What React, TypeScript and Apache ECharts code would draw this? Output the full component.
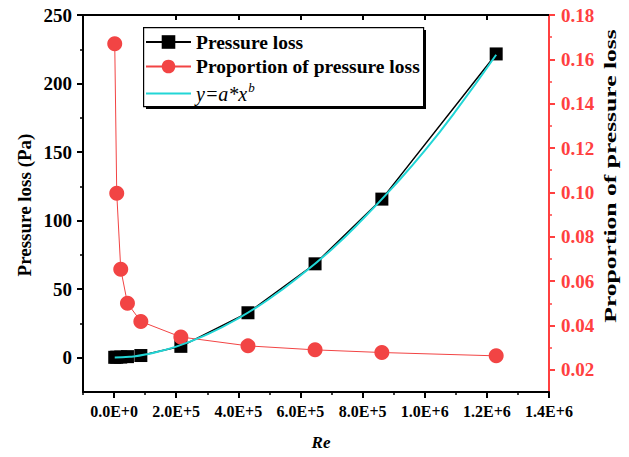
import React, { useEffect, useRef } from "react";
import * as echarts from "echarts";

const reValues = [2150, 8600, 21500, 43100, 86200, 215000, 431000, 647000, 862000, 1230000];
const pressureLoss = [0.3, 0.4, 0.5, 0.8, 1.6, 8.3, 32.8, 68.5, 115.7, 221.6];
const proportion = [0.167, 0.0996, 0.0654, 0.05, 0.0418, 0.0348, 0.0308, 0.029, 0.0278, 0.0263];
const fitRe = [2150, 50000, 100000, 200000, 300000, 400000, 500000, 600000, 700000, 800000, 900000, 1000000, 1100000, 1230000];
const fitLoss = [0.1, 0.7, 2.3, 8.1, 17, 28.7, 43, 60, 79, 101, 125, 151, 180, 221];

const xMajorTicks = [0, 200000, 400000, 600000, 800000, 1000000, 1200000, 1400000];
const xTickLabels = ["0.0E+0", "2.0E+5", "4.0E+5", "6.0E+5", "8.0E+5", "1.0E+6", "1.2E+6", "1.4E+6"];
const xMinorTicks = [-100000, 100000, 300000, 500000, 700000, 900000, 1100000, 1300000];
const yLeftMajor = [0, 50, 100, 150, 200, 250];
const yLeftMinor = [25, 75, 125, 175, 225];
const yRightMajor = [0.02, 0.04, 0.06, 0.08, 0.1, 0.12, 0.14, 0.16, 0.18];
const yRightMinor = [0.03, 0.05, 0.07, 0.09, 0.11, 0.13, 0.15, 0.17];

const FONT = "Liberation Serif";
const RED = "#ff4040";
const CYAN = "#22d6d6";

export default function App() {
  const ref = useRef<HTMLDivElement>(null);
  useEffect(() => {
    const chart = echarts.init(ref.current!, null, { renderer: "svg" });
    const xLabel = (v: number) => {
      const i = xMajorTicks.indexOf(v);
      return i >= 0 ? xTickLabels[i] : "";
    };
    const baseX = {
      type: "value" as const,
      min: -100000,
      max: 1400000,
      interval: 100000,
      splitLine: { show: false },
    };
    const option: any = {
      animation: false,
      backgroundColor: "#ffffff",
      grid: { left: 83, right: 80, top: 15, bottom: 65, containLabel: false },
      legend: {
        orient: "vertical",
        left: 143,
        top: 27,
        padding: [5, 3, 5, 2],
        itemWidth: 45,
        itemHeight: 17,
        itemGap: 4.5,
        z: 60,
        data: [
          "Pressure loss",
          "Proportion of pressure loss",
          { name: "y=a*x^b", icon: "path://M0,0L45,0L45,2L0,2Z", itemStyle: { color: CYAN } },
        ],
        formatter: (name: string) => (name === "y=a*x^b" ? "{it|y=a*x}{sup|b}" : name),
        textStyle: {
          fontFamily: FONT,
          fontWeight: "bold",
          fontSize: 19.5,
          lineHeight: 17,
          color: "#000",
          rich: {
            it: { fontFamily: FONT, fontStyle: "italic", fontWeight: "normal", fontSize: 20, lineHeight: 17, color: "#000" },
            sup: { fontFamily: FONT, fontStyle: "italic", fontWeight: "normal", fontSize: 13, lineHeight: 9, padding: [0, 0, 12, 1], color: "#000" },
          },
        },
      },
      graphic: {
        elements: [
          {
            type: "rect",
            left: 146,
            top: 30,
            z: 50,
            shape: { width: 280, height: 79 },
            style: { fill: "#000000" },
            silent: true,
          },
          {
            type: "rect",
            left: 143,
            top: 27,
            z: 51,
            shape: { width: 280, height: 79 },
            style: { fill: "#ffffff", stroke: "#000000", lineWidth: 1.2 },
            silent: true,
          },
          {
            type: "text",
            x: 24,
            y: 205,
            rotation: Math.PI / 2,
            style: { text: "Pressure loss (Pa)", fontFamily: FONT, fontWeight: "bold", fontSize: 19, fill: "#000", align: "center", verticalAlign: "middle" },
          },
          {
            type: "text",
            x: 611,
            y: 176,
            rotation: Math.PI / 2,
            scaleX: 1.6,
            style: { text: "Proportion of pressure loss", fontFamily: FONT, fontWeight: "bold", fontSize: 16, fill: "#000", align: "center", verticalAlign: "middle" },
          },
          {
            type: "text",
            x: 321,
            y: 442,
            style: { text: "Re", fontFamily: FONT, fontWeight: "bold", fontStyle: "italic", fontSize: 17, fill: "#000", align: "center", verticalAlign: "middle" },
          },
        ],
      },
      xAxis: [
        {
          ...baseX,
          position: "bottom",
          axisLine: { show: true, onZero: false, lineStyle: { color: "#000", width: 2 } },
          axisTick: { show: true, length: 6, customValues: xMajorTicks, lineStyle: { color: "#000", width: 2 } },
          axisLabel: { customValues: xMajorTicks, formatter: xLabel, margin: 11, fontFamily: FONT, fontWeight: "bold", fontSize: 16, color: "#000" },
        },
        {
          ...baseX,
          position: "bottom",
          axisLine: { show: false, onZero: false },
          axisTick: { show: true, length: 3, customValues: xMinorTicks, lineStyle: { color: "#000", width: 1.5 } },
          axisLabel: { show: false },
        },
        {
          ...baseX,
          position: "top",
          axisLine: { show: true, onZero: false, lineStyle: { color: "#000", width: 2 } },
          axisTick: { show: true, inside: true, length: 5, customValues: xMajorTicks.slice(1, 7), lineStyle: { color: "#000", width: 2 } },
          axisLabel: { show: false },
        },
      ],
      yAxis: [
        {
          type: "value",
          min: -25,
          max: 250,
          interval: 25,
          position: "left",
          splitLine: { show: false },
          axisLine: { show: true, onZero: false, lineStyle: { color: "#000", width: 2 } },
          axisTick: { show: true, length: 6, customValues: yLeftMajor, lineStyle: { color: "#000", width: 2 } },
          axisLabel: { customValues: yLeftMajor, margin: 11, fontFamily: FONT, fontWeight: "bold", fontSize: 19, color: "#000" },
        },
        {
          type: "value",
          min: -25,
          max: 250,
          interval: 25,
          position: "left",
          splitLine: { show: false },
          axisLine: { show: false, onZero: false },
          axisTick: { show: true, length: 3, customValues: yLeftMinor, lineStyle: { color: "#000", width: 1.5 } },
          axisLabel: { show: false },
        },
        {
          type: "value",
          min: 0.01,
          max: 0.18,
          interval: 0.01,
          position: "right",
          splitLine: { show: false },
          axisLine: { show: true, onZero: false, lineStyle: { color: RED, width: 2 } },
          axisTick: { show: true, length: 6, customValues: yRightMajor, lineStyle: { color: RED, width: 2 } },
          axisLabel: { customValues: yRightMajor, formatter: (v: number) => v.toFixed(2), margin: 12, fontFamily: FONT, fontWeight: "bold", fontSize: 19, color: RED },
        },
        {
          type: "value",
          min: 0.01,
          max: 0.18,
          interval: 0.01,
          position: "right",
          splitLine: { show: false },
          axisLine: { show: false, onZero: false },
          axisTick: { show: true, length: 3, customValues: yRightMinor, lineStyle: { color: RED, width: 1.5 } },
          axisLabel: { show: false },
        },
      ],
      series: [
        {
          name: "Pressure loss",
          type: "line",
          xAxisIndex: 0,
          yAxisIndex: 0,
          data: reValues.map((x, i) => [x, pressureLoss[i]]),
          symbol: "rect",
          symbolSize: 13,
          itemStyle: { color: "#000" },
          lineStyle: { color: "#000", width: 1.5 },
          z: 2,
        },
        {
          name: "Proportion of pressure loss",
          type: "line",
          xAxisIndex: 0,
          yAxisIndex: 2,
          data: reValues.map((x, i) => [x, proportion[i]]),
          symbol: "circle",
          symbolSize: 15,
          itemStyle: { color: "#f24444" },
          lineStyle: { color: "#f24444", width: 1 },
          z: 3,
        },
        {
          name: "y=a*x^b",
          type: "line",
          xAxisIndex: 0,
          yAxisIndex: 0,
          data: fitRe.map((x, i) => [x, fitLoss[i]]),
          symbol: "none",
          smooth: true,
          itemStyle: { color: CYAN },
          lineStyle: { color: CYAN, width: 2 },
          z: 4,
        },
      ],
    };
    chart.setOption(option);
    return () => chart.dispose();
  }, []);
  return <div ref={ref} style={{ position: "absolute", left: 0, top: 0, width: 629, height: 457 }} />;
}
